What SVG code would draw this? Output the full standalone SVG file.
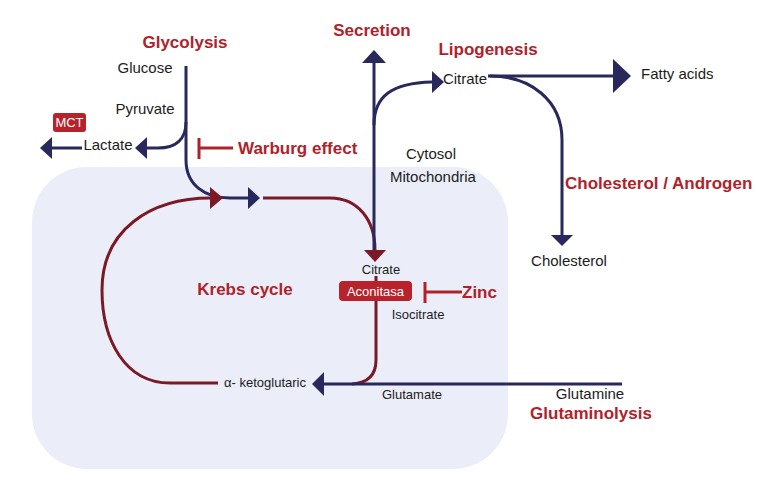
<svg xmlns="http://www.w3.org/2000/svg" width="762" height="486" viewBox="0 0 762 486">
<defs>
<style>
.t{font-family:"Liberation Sans",Arial,sans-serif;fill:#1c1c1c;font-size:15px}
.s{font-size:13px}
.r{font-family:"Liberation Sans",Arial,sans-serif;fill:#b0222a;font-weight:bold;font-size:17px}
.w{font-family:"Liberation Sans",Arial,sans-serif;fill:#fff;font-size:13px}
.n{fill:none;stroke:#29285c;stroke-width:3}
.d{fill:none;stroke:#7b1a26;stroke-width:3}
.b{fill:none;stroke:#b0222a;stroke-width:3}
.nh{fill:#29285c}
.dh{fill:#7b1a26}
</style>
</defs>
<rect width="762" height="486" fill="#fff"/>
<rect x="32" y="167" width="476" height="302" rx="55" fill="#ebeef8"/>
<g id="connectors">
<path class="n" d="M186,66 V122 C186,140 175,148 158,148 H146"/>
<polygon class="nh" points="135,148 147,137 147,159"/>
<path class="n" d="M82,148 H52"/>
<polygon class="nh" points="40,148 52,137 52,159"/>
<path class="n" d="M186,122 V160 C186,185 205,198 230,198 H249"/>
<polygon class="nh" points="260,198 248,187 248,209"/>
<path class="d" d="M218,383 H170 C125,383 102,340 102,290 C102,230 150,198 211,198"/>
<polygon class="dh" points="223,198 210,187 210,209"/>
<path class="d" d="M263,198 H330 C358,198 375,220 375,250"/>
<path class="n" d="M374,62 V252"/>
<polygon class="nh" points="374,50 362,63 386,63"/>
<path class="n" d="M374,125 C374,96 392,83 432,82"/>
<polygon class="nh" points="444,82 432,71 432,93"/>
<polygon class="dh" points="375,262 364,250 386,250"/>
<path class="n" d="M488,76 H614"/>
<polygon class="nh" points="631,76 613,59 613,93"/>
<path class="n" d="M490,76 C530,76 562,100 562,140 V236"/>
<polygon class="nh" points="562,246 551,235 573,235"/>
<path class="d" d="M376,276 V281"/>
<path class="d" d="M376,300 V360 C376,375 368,383 352,384"/>
<path class="n" d="M622,384 H323"/>
<polygon class="nh" points="312,384 324,372 324,396"/>
<path class="b" d="M199,138 V159 M199,148 H233"/>
<path class="b" d="M425,282 V303 M425,292 H462"/>
</g>
<g id="glycolysis"><text class="r" x="185" y="48" text-anchor="middle">Glycolysis</text></g>
<g id="glucose"><text class="t" x="145" y="73" text-anchor="middle">Glucose</text></g>
<g id="pyruvate"><text class="t" x="145" y="114" text-anchor="middle">Pyruvate</text></g>
<g id="mct"><rect x="53" y="113" width="33" height="19" rx="3" fill="#b8222a"/><text class="w" x="69.5" y="127" text-anchor="middle">MCT</text></g>
<g id="lactate"><text class="t" x="108" y="150" text-anchor="middle">Lactate</text></g>
<g id="warburg"><text class="r" x="238" y="154">Warburg effect</text></g>
<g id="secretion"><text class="r" x="372" y="36" text-anchor="middle">Secretion</text></g>
<g id="lipogenesis"><text class="r" x="488" y="55" text-anchor="middle">Lipogenesis</text></g>
<g id="citrate-cyto"><text class="t" x="465" y="84" text-anchor="middle">Citrate</text></g>
<g id="fatty"><text class="t" x="641" y="79">Fatty acids</text></g>
<g id="cytosol"><text class="t" x="431" y="159" text-anchor="middle">Cytosol</text></g>
<g id="mito"><text class="t" x="433" y="182" text-anchor="middle">Mitochondria</text></g>
<g id="cholandro"><text class="r" x="565" y="189">Cholesterol / Androgen</text></g>
<g id="cholesterol"><text class="t" x="569" y="266" text-anchor="middle">Cholesterol</text></g>
<g id="krebs"><text class="r" x="245" y="295" text-anchor="middle">Krebs cycle</text></g>
<g id="citrate-mito"><text class="t s" x="381" y="274" text-anchor="middle">Citrate</text></g>
<g id="aconitasa"><rect x="339" y="281" width="73" height="20" rx="4" fill="#b8222a"/><text class="w" x="375.5" y="296" text-anchor="middle">Aconitasa</text></g>
<g id="zinc"><text class="r" x="462" y="298">Zinc</text></g>
<g id="isocitrate"><text class="t s" x="418" y="319" text-anchor="middle">Isocitrate</text></g>
<g id="akg"><text class="t s" x="265" y="387" text-anchor="middle">α- ketoglutaric</text></g>
<g id="glutamate"><text class="t s" x="412" y="399" text-anchor="middle">Glutamate</text></g>
<g id="glutamine"><text class="t" x="590" y="399" text-anchor="middle">Glutamine</text></g>
<g id="glutaminolysis"><text class="r" x="591" y="419" text-anchor="middle">Glutaminolysis</text></g>
</svg>
